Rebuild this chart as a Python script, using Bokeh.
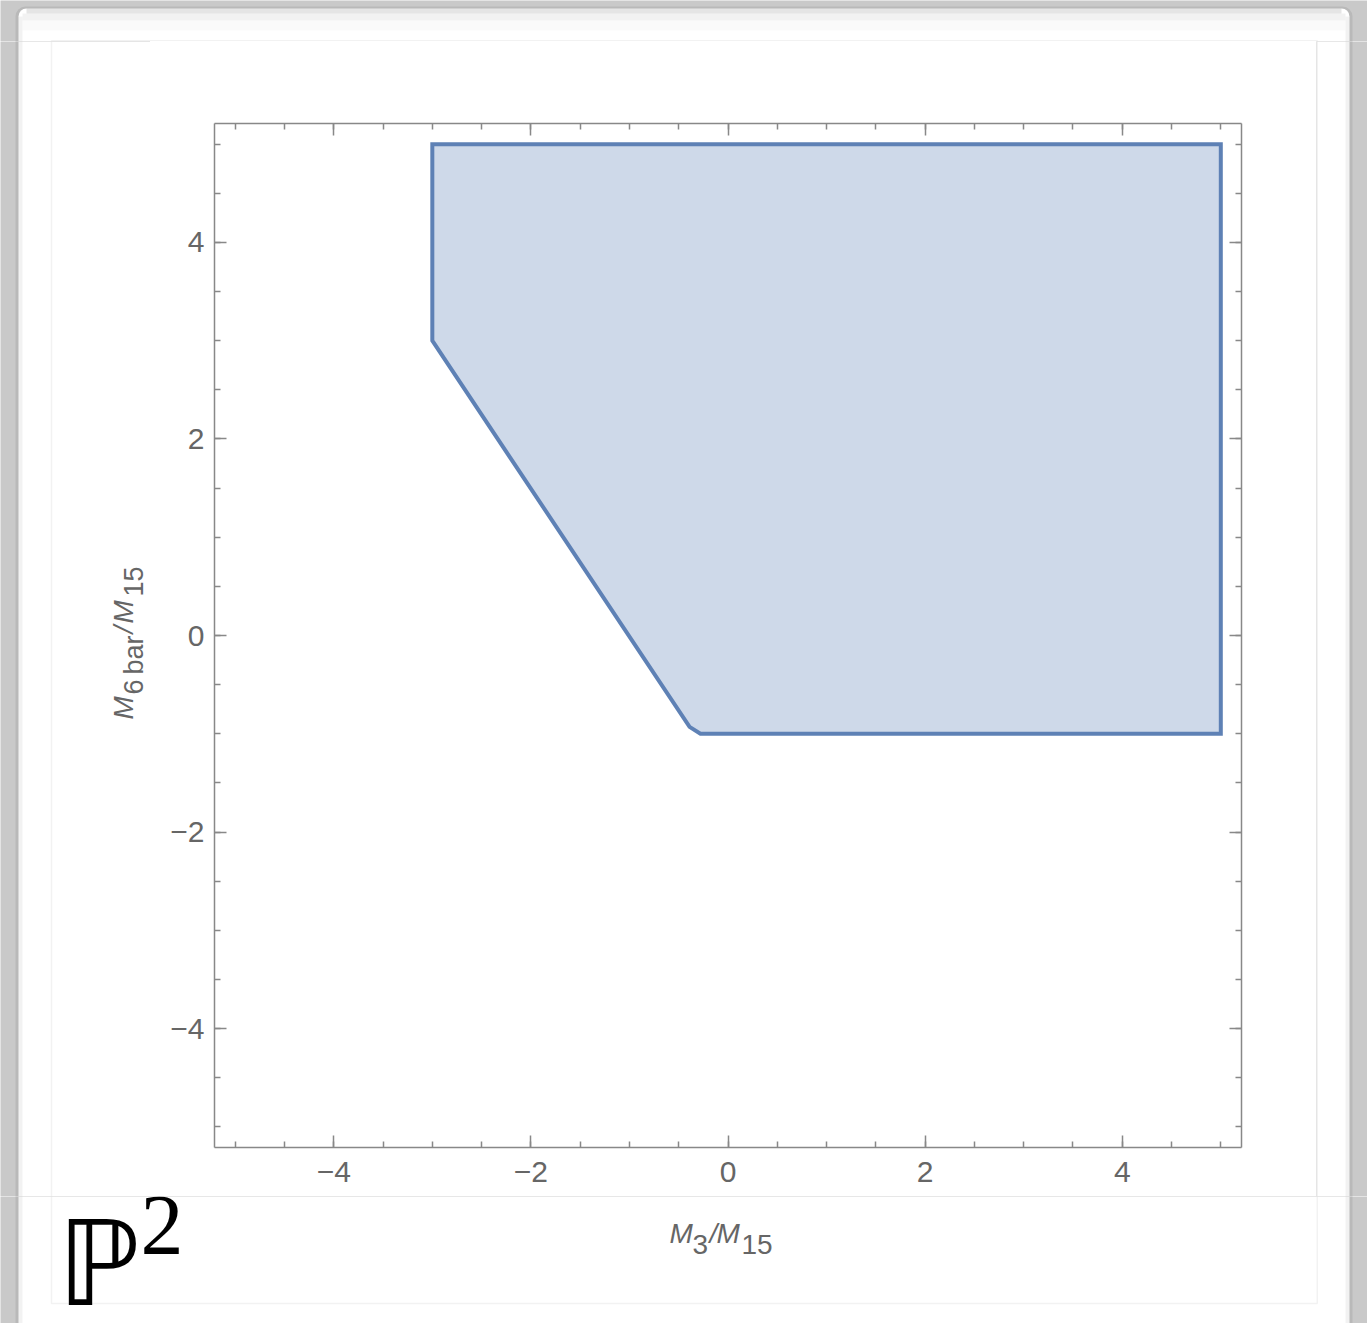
import numpy as np
from bokeh.plotting import figure
from bokeh.layouts import column, row
from bokeh.models import Range1d, LinearAxis, FixedTicker, BoxAnnotation, Label, CustomJSTickFormatter
from bokeh.embed import file_html
from bokeh.resources import INLINE

# ---- data ----
region_x = [-3.0, 5.0, 5.0, -0.28, -0.39, -3.0]
region_y = [5.0, 5.0, -1.0, -1.0, -0.93, 3.0]
x_ticks = [-4, -2, 0, 2, 4]
y_ticks = [-4, -2, 0, 2, 4]
tick_labels = {-4: "\u22124", -2: "\u22122", 0: "0", 2: "2", 4: "4"}
minor_ticks = [-5.0 + 0.5 * i for i in range(21)]
x_lo, x_hi = -5.21, 5.21
y_lo, y_hi = -5.21, 5.21

# ---- page geometry (pixels) ----
W, H = 1367, 1323
FL, FR, FT, FB = 214, 1241, 123, 1147       # plot frame edges
ML, MR, MT, MB = 150, 1316, 41, 1196        # main figure canvas edges

# ---------------- main plot ----------------
p = figure(width=MR - ML, height=MB - MT, x_range=Range1d(x_lo, x_hi), y_range=Range1d(y_lo, y_hi),
           output_backend="svg", toolbar_location=None,
           min_border_left=FL - ML, min_border_right=MR - FR, min_border_top=FT - MT,
           min_border_bottom=MB - FB)
p.border_fill_color = "white"
p.background_fill_color = "white"
p.outline_line_color = None
p.grid.visible = False

p.patch(region_x, region_y, fill_color="#5e81b5", fill_alpha=0.3, line_color="#5e81b5",
        line_width=4, line_join="miter")

p.add_layout(LinearAxis(), "above")
p.add_layout(LinearAxis(), "right")

for ax in p.axis:
    ax.ticker = FixedTicker(ticks=x_ticks, minor_ticks=minor_ticks)
    ax.axis_line_color = "#888888"
    ax.axis_line_width = 1.5
    ax.major_tick_line_color = "#888888"
    ax.major_tick_line_width = 1.5
    ax.minor_tick_line_color = "#888888"
    ax.minor_tick_line_width = 1.5
    ax.major_tick_in = 12
    ax.major_tick_out = 0
    ax.minor_tick_in = 6
    ax.minor_tick_out = 0
    ax.major_label_text_font = "Liberation Sans"
    ax.major_label_text_font_size = "30px"
    ax.major_label_text_color = "#666666"
    ax.major_label_overrides = dict(tick_labels)

p.below[0].major_label_standoff = 14
p.left[0].major_label_standoff = 10
for ax in (p.above[0], p.right[0]):
    ax.major_label_overrides = {}
    ax.formatter = CustomJSTickFormatter(code="return ''")
    ax.major_label_standoff = 0


# ---------------- decoration figures (global page coordinates) ----------------
def deco(gx0, gy0, w, h):
    f = figure(width=w, height=h, x_range=Range1d(gx0, gx0 + w), y_range=Range1d(gy0 + h, gy0),
               output_backend="svg", toolbar_location=None, x_axis_type=None, y_axis_type=None,
               min_border=0, min_border_left=0, min_border_right=0, min_border_top=0, min_border_bottom=0)
    f.outline_line_color = None
    f.background_fill_color = "white"
    f.border_fill_color = "white"

    def box(l, r, t, b, fill=None, alpha=1.0, line=None, lw=1.0, radius=0):
        f.add_layout(BoxAnnotation(left=l, right=r, top=t, bottom=b,
                                   fill_color=fill, fill_alpha=alpha if fill else 0.0,
                                   line_color=line, line_width=lw, border_radius=radius))
    # window surround
    box(-5, W + 5, -5, H + 5, fill="#c9c9c9")
    box(15, 1352, 6, H + 40, fill="#b9b9b9", radius=10)
    box(18, 1349, 8, H + 40, fill="white", radius=8)
    # soft inner shadow of the window
    box(18, 22, 16, H + 40, fill="#000000", alpha=0.05)
    box(1345, 1349, 16, H + 40, fill="#000000", alpha=0.05)
    box(26, 1341, 8, 13, fill="#000000", alpha=0.10)
    box(22, 1345, 13, 20, fill="#000000", alpha=0.05)
    box(22, 1345, 20, 30, fill="#000000", alpha=0.02)
    # inner panel border
    box(51, 1316.75, 40.25, 1303, line="#d4d4d4", lw=1.5)
    return f


def lab(f, text, px, py, size, italic=False, angle=0.0, font="Liberation Sans", color="#666666"):
    # (px, py): start of the text, py = vertical middle of the glyphs
    f.add_layout(Label(x=px, y=py, text=text,
                       text_font=font, text_font_size=f"{size}px",
                       text_font_style="italic" if italic else "normal",
                       text_color=color, text_align="left", text_baseline="middle",
                       angle=angle))


top_f = deco(0, 0, W, MT)
left_f = deco(0, MT, ML, MB - MT)
right_f = deco(MR, MT, W - MR, MB - MT)
bot_f = deco(0, MB, W, H - MB)

for f in (p, top_f, left_f, right_f, bot_f):
    try:
        f.frame_align = False
    except Exception:
        pass

# y axis label  M_{6 bar} / M_15 (rotated, reads bottom to top)
a = np.pi / 2
lab(left_f, "M", 123, 719, 28, italic=True, angle=a)
lab(left_f, "6", 133, 694, 27, angle=a)
lab(left_f, "bar", 133, 674, 27, angle=a)
lab(left_f, "/", 123, 633, 28, italic=True, angle=a)
lab(left_f, "M", 123, 623, 28, italic=True, angle=a)
lab(left_f, "15", 133, 596, 27, angle=a)

# x axis label  M_3 / M_15
lab(bot_f, "M", 669, 1233, 28, italic=True)
lab(bot_f, "3", 692, 1244, 28)
lab(bot_f, "/", 709, 1233, 28, italic=True)
lab(bot_f, "M", 716, 1233, 28, italic=True)
lab(bot_f, "15", 741, 1244, 28)

# P^2
lab(bot_f, "\u2119", 57, 1263, 118, font="DejaVu Sans", color="black")
lab(bot_f, "2", 140, 1225, 86, font="Liberation Serif", color="black")

layout = column(top_f, row(left_f, p, right_f, spacing=0), bot_f, spacing=0)

open("out.html", "w").write(file_html(layout, INLINE))
